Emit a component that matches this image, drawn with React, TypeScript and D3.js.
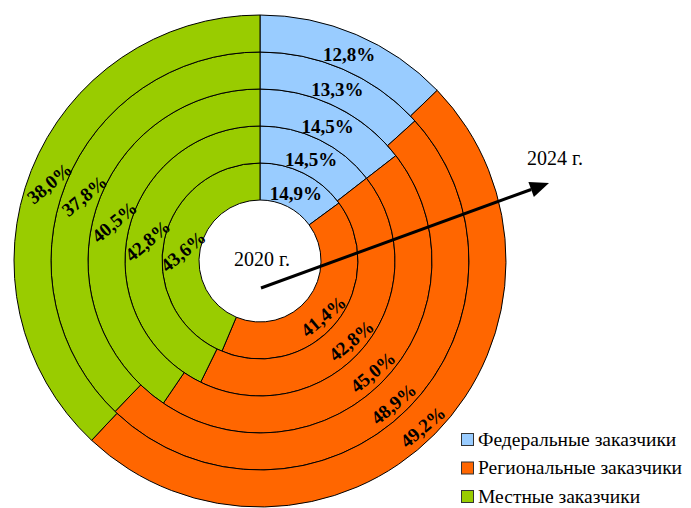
import React from "react";
import * as d3 from "d3";

const years = ["2020 г.", "2021", "2022", "2023", "2024 г."];
const seriesNames = ["Федеральные заказчики", "Региональные заказчики", "Местные заказчики"];
const colors = ["#99CCFF", "#FF6600", "#99CC00"];
const federal = [14.9, 14.5, 14.5, 13.3, 12.8];
const regional = [41.4, 42.8, 45.0, 48.9, 49.2];
const local = [43.6, 42.8, 40.5, 37.8, 38.0];
const labelRotation = [0, -40, -40];

const W = 691;
const H = 508;
const cx = 260;
const cy = 261;
const innerR = 61;
const outerR = 246;

export default function App() {
  const ringW = (outerR - innerR) / years.length;
  const pie = d3.pie<number>().sort(null).value((d) => d);
  const fmt = (v: number) => v.toFixed(1).replace(".", ",") + "%";

  const rings = years.map((_, i) => {
    const vals = [federal[i], regional[i], local[i]];
    const arcs = pie(vals);
    const arc = d3.arc<d3.PieArcDatum<number>>()
      .innerRadius(innerR + ringW * i)
      .outerRadius(innerR + ringW * (i + 1));
    return { arcs, arc };
  });

  const ax0 = cx + 1, ay0 = cy + 27;
  const ax1 = 549, ay1 = 183;
  const ang = Math.atan2(ay1 - ay0, ax1 - ax0);
  const headLen = 19, headW = 8;
  const bx = ax1 - headLen * Math.cos(ang), by = ay1 - headLen * Math.sin(ang);
  const px = -Math.sin(ang), py = Math.cos(ang);

  return (
    <svg width={W} height={H} style={{ position: "absolute", left: 0, top: 0, display: "block" }}
      fontFamily="'Liberation Serif', 'Times New Roman', serif">
      <rect width={W} height={H} fill="#fff" />
      <g transform={`translate(${cx},${cy})`}>
        {rings.map((r, i) =>
          r.arcs.map((a, j) => (
            <path key={`${i}-${j}`} d={r.arc(a) || ""} fill={colors[j]} stroke="#000" strokeWidth={1} />
          ))
        )}
        {rings.map((r, i) =>
          r.arcs.map((a, j) => {
            const [x, y] = r.arc.centroid(a);
            const dx = j === 0 ? 0 : 1;
            const dy = j === 0 ? 3 : 6;
            return (
              <text key={`t${i}-${j}`} transform={`translate(${x + dx},${y + dy}) rotate(${labelRotation[j]})`}
                textAnchor="middle" dominantBaseline="central" fontSize={19} fontWeight="bold" fill="#000">
                {fmt(a.data)}
              </text>
            );
          })
        )}
      </g>
      <text x={262} y={266} textAnchor="middle" fontSize={20} fill="#000">{years[0]}</text>
      <text x={555} y={165} textAnchor="middle" fontSize={20} fill="#000">{years[4]}</text>
      <line x1={ax0} y1={ay0} x2={bx} y2={by} stroke="#000" strokeWidth={3} />
      <path d={`M${ax1},${ay1} L${bx + px * headW},${by + py * headW} L${bx - px * headW},${by - py * headW} Z`} fill="#000" />
      {seriesNames.map((n, j) => (
        <g key={n} transform={`translate(461,${433 + j * 28.5})`}>
          <rect x={0.5} y={0.5} width={12} height={12} fill={colors[j]} stroke="#333" strokeWidth={1} />
          <text x={17} y={12.5} fontSize={19.5} fill="#000">{n}</text>
        </g>
      ))}
    </svg>
  );
}
